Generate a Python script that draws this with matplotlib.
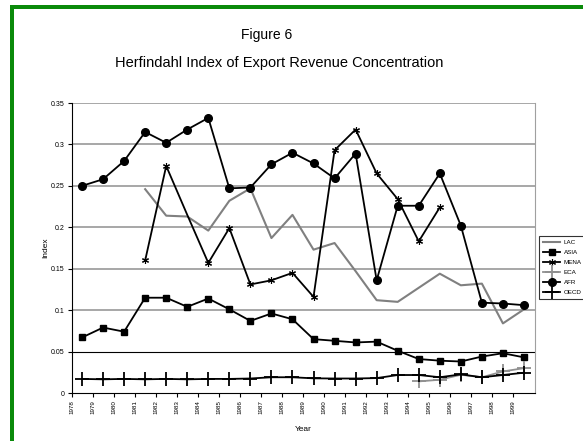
import matplotlib
matplotlib.use("Agg")
import matplotlib.pyplot as plt
from matplotlib.patches import Rectangle
import numpy as np

years = list(range(1978, 2000))
year_labels = [str(y) for y in years]

afr = [0.250, 0.258, 0.280, 0.315, 0.302, 0.318, 0.332, 0.247, 0.248, 0.276, 0.290,
       0.277, 0.259, 0.289, 0.136, 0.226, 0.226, 0.265, 0.202, 0.109, 0.108, 0.106]
asia = [0.067, 0.079, 0.074, 0.115, 0.115, 0.104, 0.114, 0.101, 0.087, 0.096, 0.089,
        0.065, 0.063, 0.061, 0.062, 0.051, 0.041, 0.039, 0.038, 0.044, 0.048, 0.043]
lac = [None, None, None, 0.246, 0.214, 0.213, 0.196, 0.232, 0.247, 0.187, 0.215,
       0.173, 0.181, 0.147, 0.112, 0.110, 0.127, 0.144, 0.130, 0.132, 0.084, 0.101]
mena = [None, None, None, 0.160, 0.274, 0.215, 0.157, 0.199, 0.131, 0.136, 0.145,
        0.116, 0.293, 0.318, 0.265, 0.234, 0.183, 0.224, None, None, None, None]
eca = [None] * 16 + [0.014, 0.016, 0.022, 0.019, 0.026, 0.030]
oecd = [0.017, 0.0165, 0.017, 0.0165, 0.017, 0.0165, 0.017, 0.017, 0.0175, 0.019, 0.019,
        0.0177, 0.0175, 0.0175, 0.018, 0.0217, 0.0217, 0.019, 0.0225, 0.019, 0.0217, 0.0245]

def arr(v):
    return np.array([np.nan if x is None else x for x in v], dtype=float)

W, H = 583, 441
fig = plt.figure(figsize=(W / 100, H / 100), dpi=100)
fig.patch.set_facecolor("white")
plt.rcParams['font.family'] = ['Liberation Sans', 'DejaVu Sans']

# green frame
green = "#0a8a0a"
fig.patches.append(Rectangle((10 / W, 0), 4 / W, (H - 5) / H, transform=fig.transFigure,
                             facecolor=green, edgecolor="none"))
fig.patches.append(Rectangle((10 / W, (H - 9) / H), (W - 10) / W, 4 / H, transform=fig.transFigure,
                             facecolor=green, edgecolor="none"))

fig.text(267 / W, 1 - 35 / H, "Figure 6", ha="center", va="center", fontsize=10)
fig.text(279 / W, 1 - 63 / H, "Herfindahl Index of Export Revenue Concentration",
         ha="center", va="center", fontsize=10.5)

ax = fig.add_axes([71.5 / W, 1 - 393 / H, 463 / W, 290 / H])
x = np.arange(len(years))

for yv in [0.1, 0.15, 0.2, 0.25, 0.3, 0.35]:
    ax.axhline(yv, color="#a0a0a0", lw=1.3, zorder=1)
ax.axhline(0.05, color="black", lw=0.8, zorder=1)

mena_marks = [i for i, v in enumerate(mena) if v is not None and i != 5]

ax.plot(x, arr(lac), color="#808080", lw=1.5, label="LAC", zorder=3)
ax.plot(x, arr(asia), color="black", lw=1.3, marker="s", ms=4.5, label="ASIA", zorder=4)
ax.plot(x, arr(mena), color="black", lw=1.3, marker=(6, 2, 0), ms=5, mew=0.8,
        markevery=mena_marks, label="MENA", zorder=4)
ax.plot(x, arr(eca), color="#909090", lw=1.3, marker="+", ms=10, mew=1.3, label="ECA", zorder=4)
ax.plot(x, arr(afr), color="black", lw=1.3, marker="o", ms=5.5, label="AFR", zorder=4)
ax.plot(x, arr(oecd), color="black", lw=1.3, marker="+", ms=10, mew=1.3, label="OECD", zorder=5)

ax.set_xlim(-0.5, len(years) - 0.5)
ax.set_ylim(0, 0.35)
ax.set_yticks([0, 0.05, 0.1, 0.15, 0.2, 0.25, 0.3, 0.35])
ax.set_yticklabels(["0", "0.05", "0.1", "0.15", "0.2", "0.25", "0.3", "0.35"], fontsize=5)
ax.set_xticks(x - 0.5)
ax.set_xticklabels(year_labels, rotation=90, fontsize=4.5)
ax.tick_params(axis="x", length=3, width=0.8, pad=2)
ax.tick_params(axis="y", length=3, width=0.8, pad=2)
ax.spines["top"].set_visible(False)
ax.spines["right"].set_color("#a0a0a0")
ax.spines["left"].set_linewidth(0.8)
ax.spines["bottom"].set_linewidth(0.8)
ax.set_ylabel("Index", fontsize=6, labelpad=1)
ax.set_xlabel("Year", fontsize=6, labelpad=9)

leg = fig.legend(loc="upper left", bbox_to_anchor=(539 / W, 1 - 236 / H), fontsize=4.5,
                 frameon=True, fancybox=False, edgecolor="black", handlelength=2.8,
                 labelspacing=0.75, borderpad=0.6, handletextpad=0.6, borderaxespad=0)
leg.get_frame().set_linewidth(0.8)

fig.savefig("out.png", dpi=100)
